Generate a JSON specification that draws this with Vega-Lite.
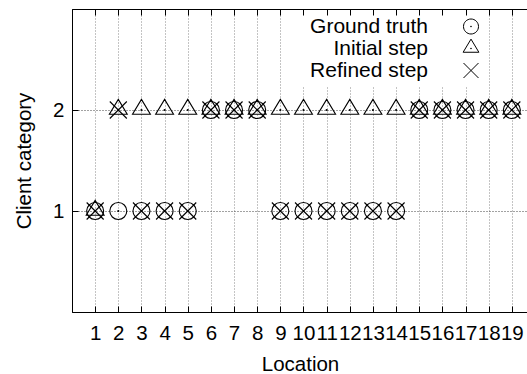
{
  "$schema": "https://vega.github.io/schema/vega-lite/v6.json",
  "autosize": "none",
  "padding": {"left": 72, "top": 9, "right": 0, "bottom": 62},
  "width": 456,
  "height": 303,
  "background": "white",
  "config": {
    "font": "Liberation Sans",
    "view": {"stroke": "black", "strokeWidth": 1},
    "axis": {
      "labelFont": "Liberation Sans",
      "titleFont": "Liberation Sans",
      "labelFontSize": 20.5,
      "titleFontSize": 20.5,
      "titleFontWeight": "normal",
      "labelColor": "black",
      "titleColor": "black",
      "domainColor": "black",
      "domainWidth": 1,
      "tickColor": "black",
      "tickWidth": 1,
      "tickSize": -6,
      "gridColor": "#888888",
      "gridDash": [1, 2],
      "gridWidth": 1,
      "gridOpacity": 1
    }
  },
  "data": {
    "values": [
      {"location": 1, "series": "Ground truth", "category": 1},
      {"location": 2, "series": "Ground truth", "category": 1},
      {"location": 3, "series": "Ground truth", "category": 1},
      {"location": 4, "series": "Ground truth", "category": 1},
      {"location": 5, "series": "Ground truth", "category": 1},
      {"location": 6, "series": "Ground truth", "category": 2},
      {"location": 7, "series": "Ground truth", "category": 2},
      {"location": 8, "series": "Ground truth", "category": 2},
      {"location": 9, "series": "Ground truth", "category": 1},
      {"location": 10, "series": "Ground truth", "category": 1},
      {"location": 11, "series": "Ground truth", "category": 1},
      {"location": 12, "series": "Ground truth", "category": 1},
      {"location": 13, "series": "Ground truth", "category": 1},
      {"location": 14, "series": "Ground truth", "category": 1},
      {"location": 15, "series": "Ground truth", "category": 2},
      {"location": 16, "series": "Ground truth", "category": 2},
      {"location": 17, "series": "Ground truth", "category": 2},
      {"location": 18, "series": "Ground truth", "category": 2},
      {"location": 19, "series": "Ground truth", "category": 2},
      {"location": 1, "series": "Initial step", "category": 1},
      {"location": 2, "series": "Initial step", "category": 2},
      {"location": 3, "series": "Initial step", "category": 2},
      {"location": 4, "series": "Initial step", "category": 2},
      {"location": 5, "series": "Initial step", "category": 2},
      {"location": 6, "series": "Initial step", "category": 2},
      {"location": 7, "series": "Initial step", "category": 2},
      {"location": 8, "series": "Initial step", "category": 2},
      {"location": 9, "series": "Initial step", "category": 2},
      {"location": 10, "series": "Initial step", "category": 2},
      {"location": 11, "series": "Initial step", "category": 2},
      {"location": 12, "series": "Initial step", "category": 2},
      {"location": 13, "series": "Initial step", "category": 2},
      {"location": 14, "series": "Initial step", "category": 2},
      {"location": 15, "series": "Initial step", "category": 2},
      {"location": 16, "series": "Initial step", "category": 2},
      {"location": 17, "series": "Initial step", "category": 2},
      {"location": 18, "series": "Initial step", "category": 2},
      {"location": 19, "series": "Initial step", "category": 2},
      {"location": 1, "series": "Refined step", "category": 1},
      {"location": 2, "series": "Refined step", "category": 2},
      {"location": 3, "series": "Refined step", "category": 1},
      {"location": 4, "series": "Refined step", "category": 1},
      {"location": 5, "series": "Refined step", "category": 1},
      {"location": 6, "series": "Refined step", "category": 2},
      {"location": 7, "series": "Refined step", "category": 2},
      {"location": 8, "series": "Refined step", "category": 2},
      {"location": 9, "series": "Refined step", "category": 1},
      {"location": 10, "series": "Refined step", "category": 1},
      {"location": 11, "series": "Refined step", "category": 1},
      {"location": 12, "series": "Refined step", "category": 1},
      {"location": 13, "series": "Refined step", "category": 1},
      {"location": 14, "series": "Refined step", "category": 1},
      {"location": 15, "series": "Refined step", "category": 2},
      {"location": 16, "series": "Refined step", "category": 2},
      {"location": 17, "series": "Refined step", "category": 2},
      {"location": 18, "series": "Refined step", "category": 2},
      {"location": 19, "series": "Refined step", "category": 2}
    ]
  },
  "resolve": {"axis": {"x": "independent"}},
  "layer": [
    {
      "mark": {"type": "point", "filled": false, "stroke": "black", "strokeWidth": 1.1, "size": 289, "opacity": 1},
      "encoding": {
        "x": {
          "field": "location",
          "type": "quantitative",
          "scale": {"domain": [0, 19.698], "nice": false, "zero": false},
          "axis": {
            "orient": "bottom",
            "values": [1, 2, 3, 4, 5, 6, 7, 8, 9, 10, 11, 12, 13, 14, 15, 16, 17, 18, 19],
            "grid": true,
            "labelPadding": 17,
            "labelFlush": false,
            "labelOverlap": false,
            "title": "Location",
            "titlePadding": 11
          }
        },
        "y": {
          "field": "category",
          "type": "quantitative",
          "scale": {"domain": [0, 3], "nice": false},
          "axis": {
            "values": [1, 2],
            "grid": true,
            "gridColor": "#444444",
            "labelPadding": 14,
            "title": "Client category",
            "titlePadding": 18
          }
        },
        "shape": {
          "field": "series",
          "type": "nominal",
          "scale": {
            "domain": ["Ground truth", "Initial step", "Refined step"],
            "range": [
              "M-1,0A1,1 0 1,0 1,0A1,1 0 1,0 -1,0Z M-0.06,0A0.06,0.06 0 1,0 0.06,0A0.06,0.06 0 1,0 -0.06,0Z",
              "M0,-1.25L1.05,0.5L-1.05,0.5Z M-0.06,0A0.06,0.06 0 1,0 0.06,0A0.06,0.06 0 1,0 -0.06,0Z",
              "M-1,-1L1,1M-1,1L1,-1"
            ]
          },
          "legend": {
            "orient": "none",
            "legendX": 226.5,
            "legendY": 2,
            "zindex": 1,
            "title": null,
            "labelAlign": "right",
            "labelOffset": -53.5,
            "symbolOffset": 157,
            "labelFont": "Liberation Sans",
            "labelFontSize": 21,
            "labelColor": "black",
            "symbolSize": 225,
            "symbolStrokeColor": "black",
            "symbolFillColor": "transparent",
            "symbolStrokeWidth": 1,
            "rowPadding": 0,
            "padding": 5,
            "fillColor": "white"
          }
        }
      }
    },
    {
      "mark": {"type": "rule", "opacity": 0},
      "encoding": {
        "x": {
          "field": "location",
          "type": "quantitative",
          "axis": {
            "orient": "top",
            "zindex": 2,
            "values": [1, 2, 3, 4, 5, 6, 7, 8, 9, 10, 11, 12, 13, 14, 15, 16, 17, 18, 19],
            "grid": false,
            "labels": false,
            "title": null
          }
        }
      }
    }
  ]
}
